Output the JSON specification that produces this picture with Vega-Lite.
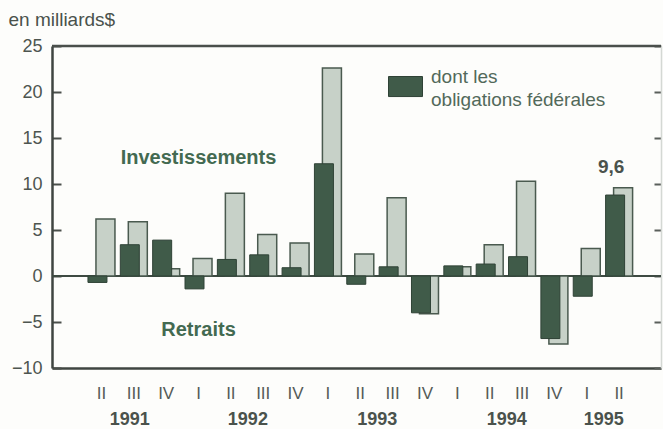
{
  "$schema": "https://vega.github.io/schema/vega-lite/v6.json",
  "width": 609,
  "height": 322,
  "autosize": "none",
  "padding": {"left": 52, "top": 46, "right": 2, "bottom": 61},
  "background": "#fdfdfb",
  "config": {"view": {"stroke": null}, "font": "Liberation Sans"},
  "datasets": {
    "flows": [
      {"quarter": "1991-II", "federal": -0.7, "total": 6.2},
      {"quarter": "1991-III", "federal": 3.4, "total": 5.9},
      {"quarter": "1991-IV", "federal": 3.9, "total": 0.8},
      {"quarter": "1992-I", "federal": -1.4, "total": 1.9},
      {"quarter": "1992-II", "federal": 1.8, "total": 9.0},
      {"quarter": "1992-III", "federal": 2.3, "total": 4.5},
      {"quarter": "1992-IV", "federal": 0.9, "total": 3.6},
      {"quarter": "1993-I", "federal": 12.2, "total": 22.6},
      {"quarter": "1993-II", "federal": -0.9, "total": 2.4},
      {"quarter": "1993-III", "federal": 1.0, "total": 8.5},
      {"quarter": "1993-IV", "federal": -4.0, "total": -4.1},
      {"quarter": "1994-I", "federal": 1.1, "total": 1.0},
      {"quarter": "1994-II", "federal": 1.3, "total": 3.4},
      {"quarter": "1994-III", "federal": 2.1, "total": 10.3},
      {"quarter": "1994-IV", "federal": -6.8, "total": -7.4},
      {"quarter": "1995-I", "federal": -2.2, "total": 3.0},
      {"quarter": "1995-II", "federal": 8.8, "total": 9.6}
    ],
    "years": [
      {"year": "1991", "quarter": "1991-III"},
      {"year": "1992", "quarter": "1992-II"},
      {"year": "1993", "quarter": "1993-II"},
      {"year": "1994", "quarter": "1994-II"},
      {"year": "1995", "quarter": "1995-I"}
    ]
  },
  "layer": [
    {
      "data": {"values": [{}]},
      "mark": {"type": "rule", "color": "#4a4f4b", "strokeWidth": 2.5},
      "encoding": {
        "y": {
          "datum": 25,
          "type": "quantitative",
          "scale": {"domain": [-10, 25], "nice": false},
          "axis": {
            "orient": "right",
            "values": [-10, -5, 0, 5, 10, 15, 20, 25],
            "labels": false,
            "title": null,
            "grid": false,
            "tickSize": -7,
            "tickColor": "#5a5f5b",
            "tickWidth": 2,
            "domainColor": "#d4d8d4",
            "domainWidth": 1.5
          }
        }
      }
    },
    {
      "data": {"values": [{}]},
      "mark": {"type": "rule", "color": "#3e4a42", "strokeWidth": 2},
      "encoding": {"y": {"datum": 0, "type": "quantitative", "axis": null}}
    },
    {
      "data": {"name": "flows"},
      "mark": {"type": "bar", "width": 19, "xOffset": 4, "fill": "#c7d1c8", "stroke": "#4a5a4f", "strokeWidth": 1.5},
      "encoding": {
        "x": {
          "field": "quarter",
          "type": "nominal",
          "sort": null,
          "scale": {
            "type": "band",
            "domain": ["1991-II", "1991-III", "1991-IV", "1992-I", "1992-II", "1992-III", "1992-IV", "1993-I", "1993-II", "1993-III", "1993-IV", "1994-I", "1994-II", "1994-III", "1994-IV", "1995-I", "1995-II"],
            "paddingInner": 0,
            "paddingOuter": 0.912,
            "align": 0.564
          },
          "axis": {
            "title": null,
            "labelExpr": "split(datum.value, '-')[1]",
            "labelAngle": 0,
            "labelFont": "Liberation Sans",
            "labelFontSize": 17,
            "labelColor": "#555b57",
            "labelPadding": 17,
            "ticks": false,
            "domainColor": "#3f4541",
            "domainWidth": 2.5
          }
        },
        "y": {
          "field": "total",
          "type": "quantitative",
          "axis": {
            "orient": "left",
            "values": [-10, -5, 0, 5, 10, 15, 20, 25],
            "title": "en milliards$",
            "titleAngle": 0,
            "titleAlign": "left",
            "titleBaseline": "middle",
            "titleX": -44,
            "titleY": -27,
            "titleFont": "Liberation Sans",
            "titleFontSize": 19,
            "titleFontWeight": "normal",
            "titleColor": "#4a524c",
            "labelFont": "Liberation Sans",
            "labelFontSize": 18,
            "labelColor": "#4d554f",
            "labelPadding": 19,
            "grid": false,
            "tickSize": -9,
            "tickWidth": 2,
            "tickColor": "#4a4f4b",
            "domainColor": "#3f4541",
            "domainWidth": 2.5
          }
        }
      }
    },
    {
      "data": {"name": "flows"},
      "mark": {"type": "bar", "width": 19, "xOffset": -4, "stroke": "#2f4236", "strokeWidth": 1},
      "encoding": {
        "x": {"field": "quarter", "type": "nominal", "sort": null, "axis": {"title": null}},
        "y": {"field": "federal", "type": "quantitative", "axis": null},
        "color": {
          "datum": "dont les obligations fédérales",
          "type": "nominal",
          "scale": {"range": ["#405b49"]},
          "legend": {
            "orient": "none",
            "legendX": 336,
            "legendY": 13,
            "padding": 0,
            "title": null,
            "symbolType": "M-1,0H1V1.18H-1Z",
            "symbolSize": 1156,
            "symbolStrokeColor": "#2f4236",
            "symbolStrokeWidth": 1,
            "symbolOpacity": 1,
            "labelFont": "Liberation Sans",
            "labelFontSize": 19,
            "labelColor": "#52695a",
            "labelOffset": 8,
            "labelLimit": 400,
            "labelExpr": "['dont les', 'obligations fédérales']",
            "encode": {"labels": {"update": {"lineHeight": {"value": 23}}}}
          }
        }
      }
    },
    {
      "data": {"values": [{}]},
      "mark": {"type": "text", "text": "Investissements", "font": "Liberation Sans", "fontSize": 20, "fontWeight": "bold", "color": "#436a51"},
      "encoding": {
        "x": {"datum": "1992-I", "axis": {"title": null}},
        "y": {"datum": 12.8, "type": "quantitative", "axis": null}
      }
    },
    {
      "data": {"values": [{}]},
      "mark": {"type": "text", "text": "Retraits", "font": "Liberation Sans", "fontSize": 20, "fontWeight": "bold", "color": "#436a51"},
      "encoding": {
        "x": {"datum": "1992-I", "axis": {"title": null}},
        "y": {"datum": -5.9, "type": "quantitative", "axis": null}
      }
    },
    {
      "data": {"values": [{}]},
      "mark": {"type": "text", "text": "9,6", "font": "Liberation Sans", "fontSize": 19, "fontWeight": "bold", "color": "#4a524c", "dx": -8},
      "encoding": {
        "x": {"datum": "1995-II", "axis": {"title": null}},
        "y": {"datum": 11.8, "type": "quantitative", "axis": null}
      }
    },
    {
      "data": {"name": "years"},
      "transform": [{"filter": "datum.year == '1991'"}],
      "mark": {"type": "text", "font": "Liberation Sans", "fontSize": 18, "fontWeight": "bold", "color": "#4a524c", "dx": -4, "dy": 52, "baseline": "middle"},
      "encoding": {
        "x": {"field": "quarter", "type": "nominal", "sort": null, "axis": {"title": null}},
        "y": {"datum": -10, "type": "quantitative", "axis": null},
        "text": {"field": "year"}
      }
    },
    {
      "data": {"name": "years"},
      "transform": [{"filter": "datum.year != '1991'"}],
      "mark": {"type": "text", "font": "Liberation Sans", "fontSize": 18, "fontWeight": "bold", "color": "#4a524c", "dx": 17, "dy": 52, "baseline": "middle"},
      "encoding": {
        "x": {"field": "quarter", "type": "nominal", "sort": null, "axis": {"title": null}},
        "y": {"datum": -10, "type": "quantitative", "axis": null},
        "text": {"field": "year"}
      }
    }
  ],
  "resolve": {"axis": {"y": "independent"}}
}
